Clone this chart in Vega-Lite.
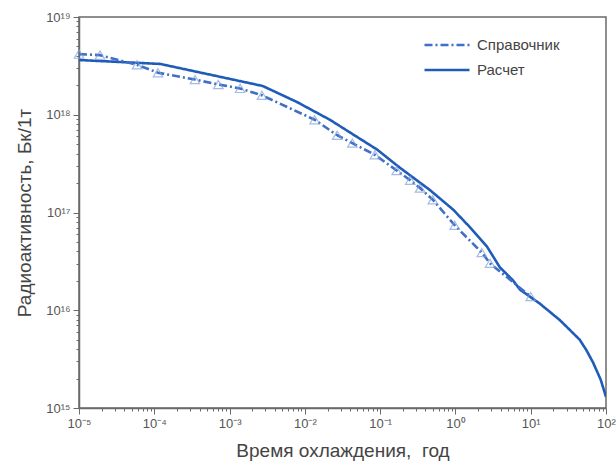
{
  "$schema": "https://vega.github.io/schema/vega-lite/v6.json",
  "width": 527,
  "height": 391,
  "autosize": {"type": "none"},
  "padding": {"left": 79, "top": 17, "right": 10, "bottom": 60},
  "background": "white",
  "config": {
    "font": "Liberation Sans",
    "view": {"stroke": "#6a6a6a", "strokeWidth": 1.5},
    "axis": {
      "grid": false,
      "domainColor": "#6a6a6a",
      "domainWidth": 1.5,
      "tickColor": "#6a6a6a",
      "tickWidth": 1,
      "labelColor": "#555555",
      "labelFont": "Liberation Sans",
      "labelFontSize": 13,
      "titleFont": "Liberation Sans",
      "titleFontSize": 19,
      "titleFontWeight": "normal",
      "titleColor": "#444444"
    },
    "legend": {
      "labelFont": "Liberation Sans",
      "labelFontSize": 15,
      "labelColor": "#444444"
    }
  },
  "data": {
    "values": [
      {"series": "Расчет", "t": 0.00001, "a": 3.63e18},
      {"series": "Расчет", "t": 0.00012, "a": 3.31e18},
      {"series": "Расчет", "t": 0.00275, "a": 1.97e18},
      {"series": "Расчет", "t": 0.00785, "a": 1.35e18},
      {"series": "Расчет", "t": 0.0214, "a": 8.9e17},
      {"series": "Расчет", "t": 0.0912, "a": 4.4e17},
      {"series": "Расчет", "t": 0.182, "a": 2.88e17},
      {"series": "Расчет", "t": 0.457, "a": 1.70e17},
      {"series": "Расчет", "t": 0.933, "a": 1.07e17},
      {"series": "Расчет", "t": 1.55, "a": 7.1e16},
      {"series": "Расчет", "t": 2.63, "a": 4.47e16},
      {"series": "Расчет", "t": 3.89, "a": 2.75e16},
      {"series": "Расчет", "t": 5.75, "a": 2.04e16},
      {"series": "Расчет", "t": 7.24, "a": 1.62e16},
      {"series": "Расчет", "t": 13.2, "a": 1.17e16},
      {"series": "Расчет", "t": 24.5, "a": 7.9e15},
      {"series": "Расчет", "t": 44.7, "a": 5.0e15},
      {"series": "Расчет", "t": 55, "a": 3.9e15},
      {"series": "Расчет", "t": 67.6, "a": 2.9e15},
      {"series": "Расчет", "t": 85, "a": 1.95e15},
      {"series": "Расчет", "t": 100, "a": 1.3e15},
      {"series": "Справочник", "t": 0.00001, "a": 4.17e18},
      {"series": "Справочник", "t": 0.000019, "a": 4.07e18},
      {"series": "Справочник", "t": 0.000059, "a": 3.24e18},
      {"series": "Справочник", "t": 0.000112, "a": 2.69e18},
      {"series": "Справочник", "t": 0.000347, "a": 2.29e18},
      {"series": "Справочник", "t": 0.00071, "a": 2.04e18},
      {"series": "Справочник", "t": 0.00138, "a": 1.86e18},
      {"series": "Справочник", "t": 0.00269, "a": 1.58e18},
      {"series": "Справочник", "t": 0.0135, "a": 8.9e17},
      {"series": "Справочник", "t": 0.0269, "a": 6.17e17},
      {"series": "Справочник", "t": 0.0427, "a": 5.13e17},
      {"series": "Справочник", "t": 0.0851, "a": 3.89e17},
      {"series": "Справочник", "t": 0.166, "a": 2.69e17},
      {"series": "Справочник", "t": 0.251, "a": 2.14e17},
      {"series": "Справочник", "t": 0.339, "a": 1.78e17},
      {"series": "Справочник", "t": 0.501, "a": 1.35e17},
      {"series": "Справочник", "t": 0.977, "a": 7.41e16},
      {"series": "Справочник", "t": 2.24, "a": 3.89e16},
      {"series": "Справочник", "t": 2.88, "a": 3.02e16},
      {"series": "Справочник", "t": 10, "a": 1.38e16}
    ]
  },
  "layer": [
    {
      "mark": {"type": "line", "strokeWidth": 2.6, "clip": true},
      "encoding": {
        "x": {
          "field": "t", "type": "quantitative",
          "scale": {"type": "log", "domain": [0.00001, 100], "nice": false},
          "axis": {
            "title": "Время охлаждения,\u00a0 год",
            "values": [0.00001, 0.0001, 0.001, 0.01, 0.1, 1, 10, 100],
            "tickSize": 6,
            "labelPadding": 3,
            "titlePadding": 11,
            "labelFlush": false,
            "labelExpr": "'10' + {'-5':'⁻⁵','-4':'⁻⁴','-3':'⁻³','-2':'⁻²','-1':'⁻¹','0':'⁰','1':'¹','2':'²'}['' + round(log(datum.value)/LN10)]"
          }
        },
        "y": {
          "field": "a", "type": "quantitative",
          "scale": {"type": "log", "domain": [1e15, 1e19], "nice": false},
          "axis": {
            "title": "Радиоактивность, Бк/1т",
            "values": [1e15, 1e16, 1e17, 1e18, 1e19],
            "tickSize": 6,
            "labelPadding": 3,
            "titlePadding": 11,
            "labelExpr": "'10' + {'15':'¹⁵','16':'¹⁶','17':'¹⁷','18':'¹⁸','19':'¹⁹'}['' + round(log(datum.value)/LN10)]"
          }
        },
        "color": {
          "field": "series", "type": "nominal",
          "scale": {"domain": ["Справочник", "Расчет"], "range": ["#3f6fc6", "#1f5cb8"]},
          "legend": {
            "title": null,
            "orient": "none",
            "legendX": 344,
            "legendY": 18,
            "symbolType": "stroke",
            "symbolSize": 2025,
            "symbolStrokeWidth": 2.6,
            "clipHeight": 20,
            "rowPadding": 5,
            "labelOffset": 6
          }
        },
        "strokeDash": {
          "field": "series", "type": "nominal",
          "scale": {"domain": ["Справочник", "Расчет"], "range": [[8, 3, 2, 3], [1, 0]]},
          "legend": null
        }
      }
    },
    {
      "transform": [{"filter": "datum.series == 'Справочник'"}],
      "mark": {"type": "point", "shape": "triangle-up", "filled": false, "size": 90, "strokeWidth": 1.2, "color": "#7f9fdb"},
      "encoding": {
        "x": {
          "field": "t", "type": "quantitative",
          "axis": {
            "title": null,
            "orient": "bottom",
            "labels": false,
            "domain": false,
            "tickSize": 3,
            "values": [0.00002,0.00003,0.00004,0.00005,0.00006,0.00007,0.00008,0.00009,
                       0.0002,0.0003,0.0004,0.0005,0.0006,0.0007,0.0008,0.0009,
                       0.002,0.003,0.004,0.005,0.006,0.007,0.008,0.009,
                       0.02,0.03,0.04,0.05,0.06,0.07,0.08,0.09,
                       0.2,0.3,0.4,0.5,0.6,0.7,0.8,0.9,
                       2,3,4,5,6,7,8,9,
                       20,30,40,50,60,70,80,90]
          }
        },
        "y": {
          "field": "a", "type": "quantitative",
          "axis": {
            "title": null,
            "orient": "left",
            "labels": false,
            "domain": false,
            "tickSize": 3,
            "values": [2e15,3e15,4e15,5e15,6e15,7e15,8e15,9e15,
                       2e16,3e16,4e16,5e16,6e16,7e16,8e16,9e16,
                       2e17,3e17,4e17,5e17,6e17,7e17,8e17,9e17,
                       2e18,3e18,4e18,5e18,6e18,7e18,8e18,9e18]
          }
        }
      }
    }
  ],
  "resolve": {"axis": {"x": "independent", "y": "independent"}}
}
